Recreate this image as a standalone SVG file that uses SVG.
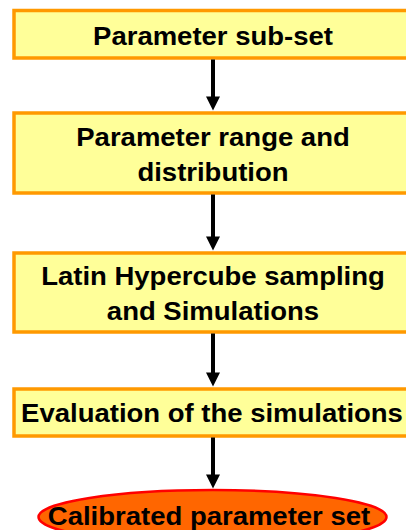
<svg xmlns="http://www.w3.org/2000/svg" width="406" height="530" viewBox="0 0 406 530">
  <style>
    .box { fill: #FFFF99; stroke: #FF9900; stroke-width: 3.5; }
    .lbl { font-family: "Liberation Sans", Arial, sans-serif; font-weight: bold; font-size: 25px; fill: #000; text-anchor: middle; }
    .conn line { stroke: #000; stroke-width: 4; }
    .conn polygon { fill: #000; }
  </style>
  <rect width="406" height="530" fill="#fff"/>
  <g id="node-subset">
    <rect class="box" x="14" y="10.5" width="400" height="47.5"/>
    <text class="lbl" transform="translate(213 44.5) scale(1.1 1)">Parameter sub-set</text>
  </g>
  <g id="node-range">
    <rect class="box" x="14" y="113" width="400" height="80"/>
    <text class="lbl" transform="translate(213 146) scale(1.1 1)">Parameter range and</text>
    <text class="lbl" transform="translate(213 181) scale(1.1 1)">distribution</text>
  </g>
  <g id="node-lhs">
    <rect class="box" x="14" y="253" width="400" height="79"/>
    <text class="lbl" transform="translate(213 285) scale(1.1 1)">Latin Hypercube sampling</text>
    <text class="lbl" transform="translate(213 320) scale(1.1 1)">and Simulations</text>
  </g>
  <g id="node-eval">
    <rect class="box" x="14" y="389" width="400" height="47"/>
    <text class="lbl" transform="translate(212 421.5) scale(1.1 1)">Evaluation of the simulations</text>
  </g>
  <g id="node-result">
    <ellipse cx="212.5" cy="517" rx="174" ry="27" fill="#FF6600" stroke="#FF0000" stroke-width="2.5"/>
    <text class="lbl" transform="translate(209 525) scale(1.1 1)">Calibrated parameter set</text>
  </g>
  <g id="connectors" class="conn">
    <line x1="213" y1="59.5" x2="213" y2="98"/>
    <polygon points="206,96.5 220,96.5 213,110.5"/>
    <line x1="213" y1="194.5" x2="213" y2="238"/>
    <polygon points="206,236.5 220,236.5 213,250.5"/>
    <line x1="213" y1="333.5" x2="213" y2="374"/>
    <polygon points="206,372.5 220,372.5 213,386.5"/>
    <line x1="213" y1="437.5" x2="213" y2="476"/>
    <polygon points="206,474.5 220,474.5 213,488.5"/>
  </g>
</svg>
